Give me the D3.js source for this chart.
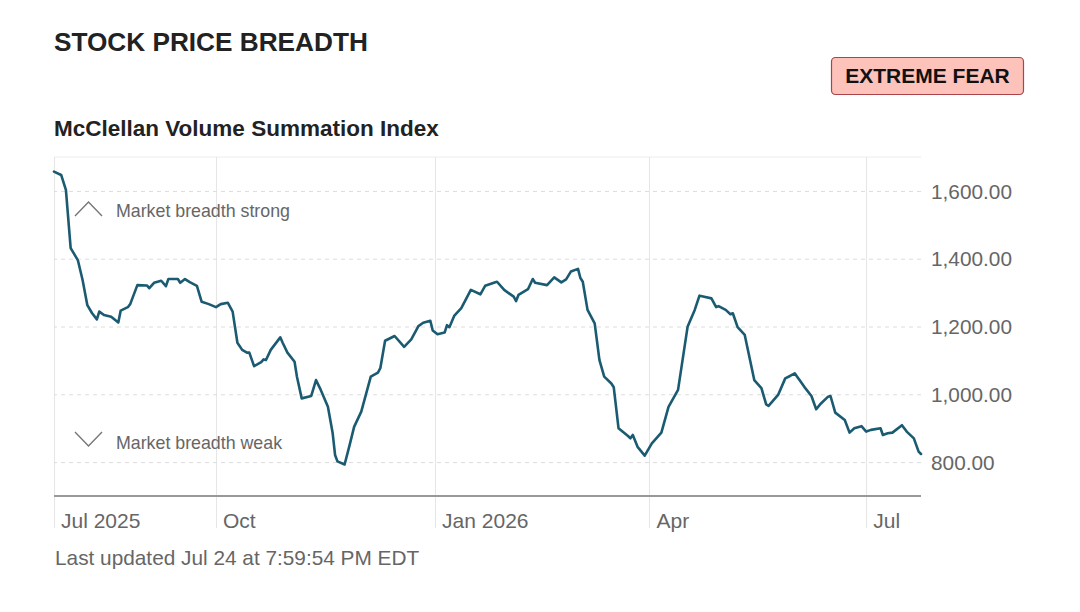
<!DOCTYPE html>
<html>
<head>
<meta charset="utf-8">
<script src="https://cdn.jsdelivr.net/npm/d3@7"></script>
<style>
  html, body { margin: 0; padding: 0; background: #fff; }
  svg { display: block; font-family: "Liberation Sans", Arial, Helvetica, sans-serif; }
</style>
</head>
<body>
<svg id="chart" width="1080" height="612"></svg>
<script>
// ---- data ----
const dates = ["2025-07-25","2025-07-28","2025-07-30","2025-08-01","2025-08-04","2025-08-06","2025-08-08","2025-08-10","2025-08-12","2025-08-13",
"2025-08-15","2025-08-18","2025-08-21","2025-08-22","2025-08-25","2025-08-26","2025-08-29","2025-09-02","2025-09-03","2025-09-05",
"2025-09-08","2025-09-10","2025-09-11","2025-09-15","2025-09-16","2025-09-18","2025-09-20","2025-09-23","2025-09-25","2025-09-28",
"2025-10-01","2025-10-03","2025-10-06","2025-10-08","2025-10-10","2025-10-12","2025-10-14","2025-10-15","2025-10-17","2025-10-20",
"2025-10-21","2025-10-22","2025-10-24","2025-10-28","2025-10-29","2025-10-31","2025-11-03","2025-11-04","2025-11-06","2025-11-10",
"2025-11-12","2025-11-14","2025-11-17","2025-11-19","2025-11-20","2025-11-21","2025-11-24","2025-11-26","2025-11-28","2025-12-01",
"2025-12-05","2025-12-08","2025-12-09","2025-12-11","2025-12-15","2025-12-19","2025-12-22","2025-12-25","2025-12-27","2025-12-30",
"2025-12-31","2026-01-02","2026-01-05","2026-01-06","2026-01-07","2026-01-09","2026-01-12","2026-01-16","2026-01-20","2026-01-22",
"2026-01-26","2026-01-27","2026-01-30","2026-02-03","2026-02-04","2026-02-05","2026-02-09","2026-02-11","2026-02-12","2026-02-17",
"2026-02-20","2026-02-23","2026-02-25","2026-02-27","2026-03-02","2026-03-03","2026-03-04","2026-03-06","2026-03-09","2026-03-11",
"2026-03-13","2026-03-16","2026-03-17","2026-03-19","2026-03-23","2026-03-24","2026-03-25","2026-03-27","2026-03-30","2026-04-02",
"2026-04-06","2026-04-09","2026-04-13","2026-04-17","2026-04-20","2026-04-22","2026-04-24","2026-04-27","2026-04-29","2026-04-30",
"2026-05-03","2026-05-05","2026-05-06","2026-05-08","2026-05-11","2026-05-15","2026-05-18","2026-05-20","2026-05-21","2026-05-25",
"2026-05-28","2026-05-30","2026-06-01","2026-06-02","2026-06-03","2026-06-05","2026-06-08","2026-06-10","2026-06-12","2026-06-15",
"2026-06-16","2026-06-18","2026-06-22","2026-06-24","2026-06-26","2026-06-29","2026-07-01","2026-07-03","2026-07-07","2026-07-08",
"2026-07-10","2026-07-12","2026-07-16","2026-07-18","2026-07-21","2026-07-23","2026-07-24"];

const values = [1657,1647,1603,1431,1396,1337,1263,1239,1221,1244,
1234,1229,1212,1247,1257,1266,1322,1321,1313,1329,
1335,1319,1340,1340,1329,1340,1331,1320,1273,1266,
1257,1266,1270,1244,1152,1131,1123,1123,1083,1095,
1103,1101,1131,1168,1152,1123,1096,1052,988,995,
1042,1013,963,885,821,802,793,847,904,949,
1052,1064,1077,1158,1172,1140,1162,1201,1211,1217,
1188,1177,1182,1204,1198,1231,1254,1308,1295,1320,
1330,1332,1308,1288,1275,1293,1310,1340,1329,1322,
1345,1330,1339,1362,1370,1343,1332,1249,1209,1101,
1052,1032,1021,900,877,870,880,845,819,855,
887,963,1013,1199,1249,1291,1288,1283,1257,1260,
1249,1236,1239,1198,1175,1042,1018,970,966,998,
1047,1054,1062,1052,1042,1022,995,956,973,993,
995,946,924,887,900,906,890,895,900,880,
885,887,909,890,870,831,824];

const domainDates = ["2025-07-25", "2026-07-24"];
const yDomain = [700, 1700];
const yTicks = [800, 1000, 1200, 1400, 1600];
const xTickDates = ["2025-07-01", "2025-10-01", "2026-01-01", "2026-04-01", "2026-07-01"];
const xTickLabels = ["Jul 2025", "Oct", "Jan 2026", "Apr", "Jul"];

const titleText = "STOCK PRICE BREADTH";
const subtitleText = "McClellan Volume Summation Index";
const badgeText = "EXTREME FEAR";
const strongText = "Market breadth strong";
const weakText = "Market breadth weak";
const footerText = "Last updated Jul 24 at 7:59:54 PM EDT";

// ---- layout ----
(function () {
const parse = d3.timeParse("%Y-%m-%d");
const data = dates.map((d, i) => ({ date: parse(d), value: values[i] }));

const pLeft = 54, pRight = 921, pTop = 157, pBottom = 496;
const svg = d3.select("#chart");

const x = d3.scaleTime().domain(domainDates.map(parse)).range([pLeft, pRight]).clamp(true);
const y = d3.scaleLinear().domain(yDomain).range([pBottom, pTop]);

// title
svg.append("text").attr("x", 54).attr("y", 51)
  .attr("font-size", 26.2).attr("font-weight", "bold").attr("fill", "#222")
  .text(titleText);

// badge
const badge = svg.append("g");
badge.append("rect").attr("x", 831.5).attr("y", 57.5).attr("width", 192).attr("height", 37)
  .attr("rx", 4).attr("fill", "#fdc3bb").attr("stroke", "#a8444a").attr("stroke-width", 1.2);
badge.append("text").attr("x", 927.5).attr("y", 83)
  .attr("text-anchor", "middle").attr("font-size", 21).attr("font-weight", "bold").attr("fill", "#111")
  .text(badgeText);

// subtitle
svg.append("text").attr("x", 54).attr("y", 136)
  .attr("font-size", 22.5).attr("font-weight", "bold").attr("fill", "#222")
  .text(subtitleText);

// top border line
svg.append("line").attr("x1", pLeft).attr("x2", pRight).attr("y1", pTop).attr("y2", pTop)
  .attr("stroke", "#ececec").attr("stroke-width", 1);

// vertical gridlines (from ticks)
const xTicks = xTickDates.map(parse);
svg.append("g").selectAll("line").data(xTicks).join("line")
  .attr("x1", d => Math.round(x(d)) + 0.5).attr("x2", d => Math.round(x(d)) + 0.5)
  .attr("y1", pTop).attr("y2", 528)
  .attr("stroke", "#e6e6e6").attr("stroke-width", 1);

// horizontal dashed gridlines + right axis labels
const yAxis = d3.axisRight(y).tickValues(yTicks)
  .tickSize(-(pRight - pLeft)).tickPadding(10)
  .tickFormat(d3.format(",.2f"));
const gy = svg.append("g").attr("transform", `translate(${pRight},0)`).call(yAxis);
gy.select(".domain").remove();
gy.selectAll(".tick line").attr("stroke", "#dcdcdc").attr("stroke-dasharray", "4,4").attr("stroke-width", 1);
gy.selectAll(".tick text").attr("font-size", 20.8).attr("fill", "#666")
  .attr("font-family", "Liberation Sans, Arial, sans-serif").attr("dy", "0.35em").attr("x", 10);

// annotations
const chev = svg.append("g").attr("fill", "none").attr("stroke", "#777").attr("stroke-width", 1.4);
chev.append("path").attr("d", "M75,216 L88.5,202 L102,216");
chev.append("path").attr("d", "M75,432 L88.5,446 L102,432");
svg.append("text").attr("x", 116).attr("y", 217).attr("font-size", 17.8).attr("fill", "#666").text(strongText);
svg.append("text").attr("x", 116).attr("y", 449).attr("font-size", 17.8).attr("fill", "#666").text(weakText);

// line
const line = d3.line().x(d => x(d.date)).y(d => y(d.value)).curve(d3.curveLinear);
svg.append("path").datum(data).attr("d", line)
  .attr("fill", "none").attr("stroke", "#1b5b72").attr("stroke-width", 2.6)
  .attr("stroke-linejoin", "round").attr("stroke-linecap", "round");

// x axis line
svg.append("line").attr("x1", pLeft).attr("x2", pRight).attr("y1", pBottom).attr("y2", pBottom)
  .attr("stroke", "#999").attr("stroke-width", 2);

// x labels
svg.append("g").selectAll("text").data(xTicks).join("text")
  .attr("x", d => x(d) + 7).attr("y", 528)
  .attr("font-size", 21).attr("fill", "#666")
  .text((d, i) => xTickLabels[i]);

// footer
svg.append("text").attr("x", 55).attr("y", 565).attr("font-size", 20.8).attr("fill", "#666").text(footerText);
})();
</script>
</body>
</html>
